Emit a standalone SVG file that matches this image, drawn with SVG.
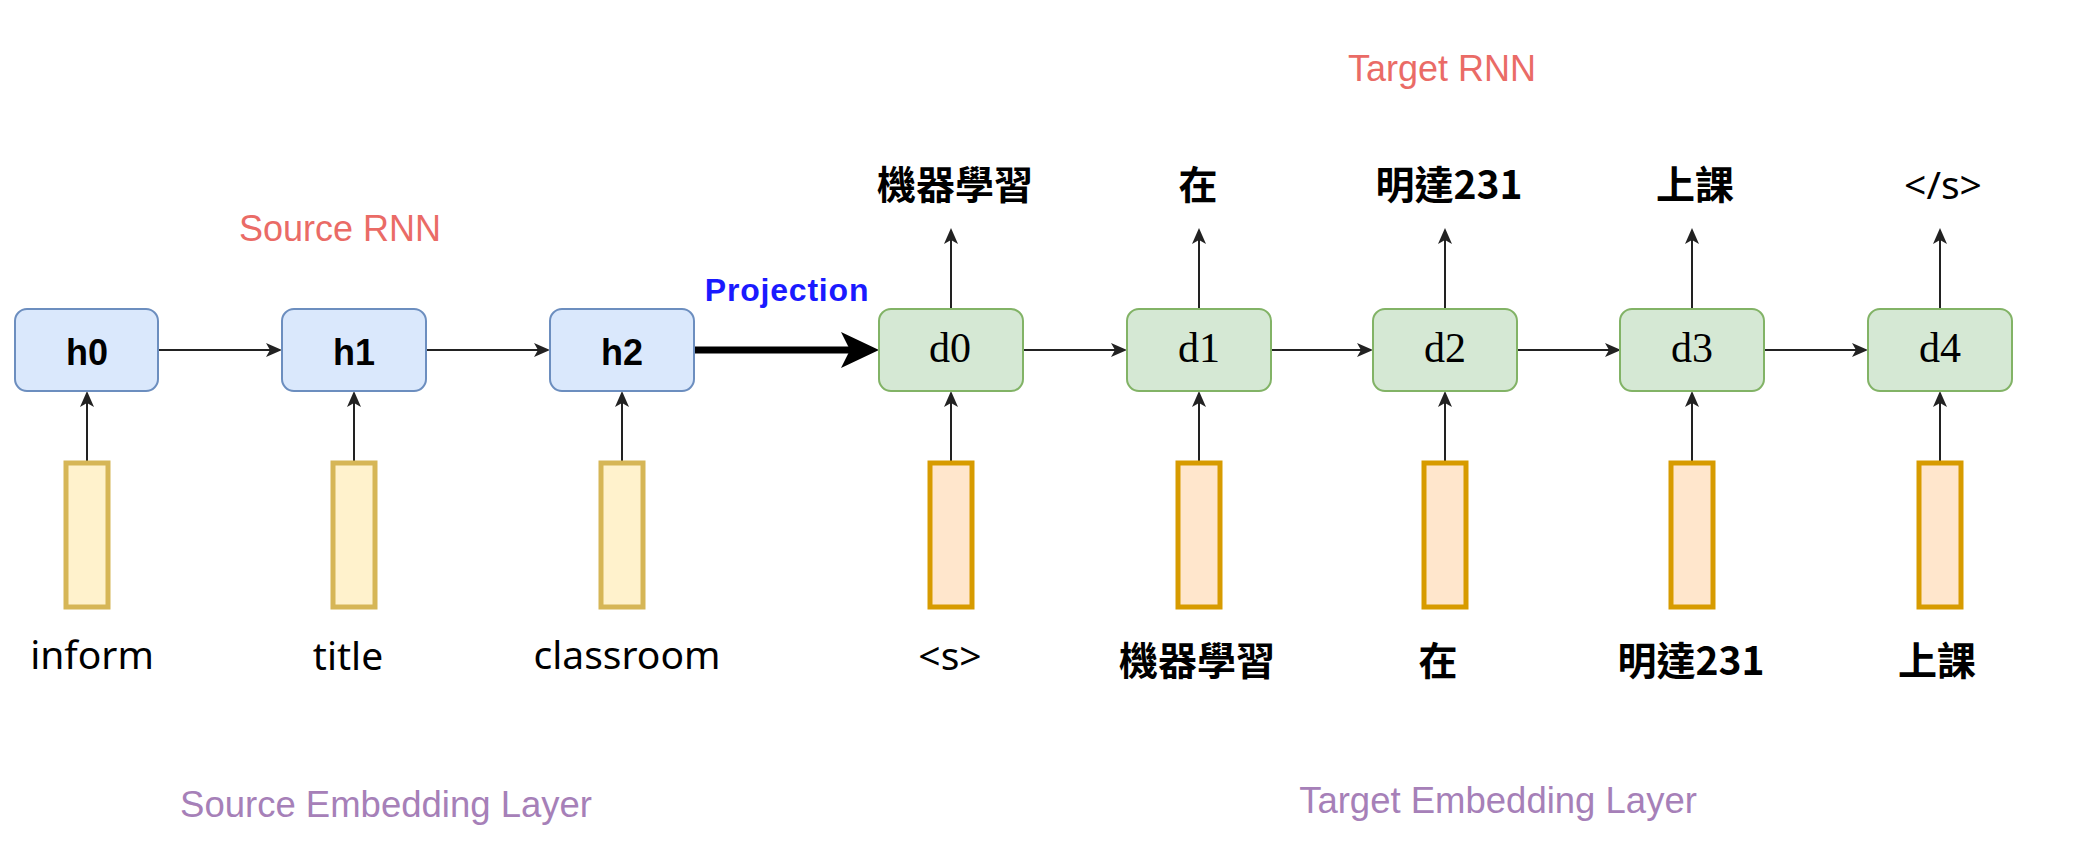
<svg xmlns="http://www.w3.org/2000/svg" width="2078" height="856" viewBox="0 0 2078 856">
<defs>
<style>
.h{fill:#dae8fc;stroke:#6c8ebf;stroke-width:2}
.d{fill:#d5e8d4;stroke:#82b366;stroke-width:2}
.se{fill:#fff2cc;stroke:#d6b656;stroke-width:5}
.te{fill:#ffe6cc;stroke:#d79b00;stroke-width:5}
.ht{font-family:"Liberation Sans",Arial,sans-serif;font-weight:bold;font-size:36px;fill:#000;text-anchor:middle}
.dt{font-family:"Liberation Serif","Times New Roman",serif;font-size:42px;fill:#000;text-anchor:middle}
.w{font-family:"Noto Sans","Noto Sans CJK TC",sans-serif;font-size:39px;fill:#000;text-anchor:middle}
.cjk{font-family:"Noto Sans CJK TC",sans-serif;font-weight:bold}
.red{font-family:"Liberation Sans",Arial,sans-serif;font-size:36px;fill:#ea6b66;text-anchor:middle}
.pur{font-family:"Liberation Sans",Arial,sans-serif;font-size:36.5px;fill:#a680b8;text-anchor:middle}
.proj{font-family:"Liberation Sans",Arial,sans-serif;font-weight:bold;font-size:32px;fill:#1a1aff;text-anchor:middle;letter-spacing:0.8px}
.c{stroke:#222;stroke-width:2;fill:none;marker-end:url(#arr)}
.thick{stroke:#000;stroke-width:7;fill:none;marker-end:url(#big)}
</style>
<marker id="arr" markerUnits="userSpaceOnUse" viewBox="0 0 16 14" markerWidth="16" markerHeight="14" refX="4" refY="7" orient="auto"><path d="M0,0 L16,7 L0,14 L4,7 Z" fill="#222"/></marker>
<marker id="big" markerUnits="userSpaceOnUse" viewBox="0 0 38 36" markerWidth="38" markerHeight="36" refX="9" refY="18" orient="auto"><path d="M0,0 L38,18 L0,36 L9,18 Z" fill="#000"/></marker>
</defs>
<rect width="2078" height="856" fill="#fff"/>

<g id="labels">
<text class="red" x="340" y="241">Source RNN</text>
<text class="red" x="1442" y="81">Target RNN</text>
<text class="proj" x="787" y="301">Projection</text>
<text class="pur" x="386" y="817">Source Embedding Layer</text>
<text class="pur" x="1498" y="813">Target Embedding Layer</text>
</g>

<g id="connectors">
<path class="c" d="M158,350 H270"/>
<path class="c" d="M426,350 H538"/>
<path class="thick" d="M694,350 H850"/>
<path class="c" d="M1023,350 H1115"/>
<path class="c" d="M1271,350 H1361"/>
<path class="c" d="M1517,350 H1609"/>
<path class="c" d="M1764,350 H1856"/>
<path class="c" d="M87,461 V403"/>
<path class="c" d="M354,461 V403"/>
<path class="c" d="M622,461 V403"/>
<path class="c" d="M951,461 V403"/>
<path class="c" d="M1199,461 V403"/>
<path class="c" d="M1445,461 V403"/>
<path class="c" d="M1692,461 V403"/>
<path class="c" d="M1940,461 V403"/>
<path class="c" d="M951,309 V240"/>
<path class="c" d="M1199,309 V240"/>
<path class="c" d="M1445,309 V240"/>
<path class="c" d="M1692,309 V240"/>
<path class="c" d="M1940,309 V240"/>
</g>

<g id="h0"><rect class="h" x="15" y="309" width="143" height="82" rx="12"/><text class="ht" x="87" y="365">h0</text></g>
<g id="h1"><rect class="h" x="282" y="309" width="144" height="82" rx="12"/><text class="ht" x="354" y="365">h1</text></g>
<g id="h2"><rect class="h" x="550" y="309" width="144" height="82" rx="12"/><text class="ht" x="622" y="365">h2</text></g>

<g id="d0"><rect class="d" x="879" y="309" width="144" height="82" rx="12"/><text class="dt" x="950" y="362">d0</text></g>
<g id="d1"><rect class="d" x="1127" y="309" width="144" height="82" rx="12"/><text class="dt" x="1199" y="362">d1</text></g>
<g id="d2"><rect class="d" x="1373" y="309" width="144" height="82" rx="12"/><text class="dt" x="1445" y="362">d2</text></g>
<g id="d3"><rect class="d" x="1620" y="309" width="144" height="82" rx="12"/><text class="dt" x="1692" y="362">d3</text></g>
<g id="d4"><rect class="d" x="1868" y="309" width="144" height="82" rx="12"/><text class="dt" x="1940" y="362">d4</text></g>

<g id="se0"><rect class="se" x="66" y="463" width="42" height="144"/><text class="w" x="92" y="669">inform</text></g>
<g id="se1"><rect class="se" x="333" y="463" width="42" height="144"/><text class="w" x="348" y="670">title</text></g>
<g id="se2"><rect class="se" x="601" y="463" width="42" height="144"/><text class="w" x="627" y="669">classroom</text></g>

<g id="te0"><rect class="te" x="930" y="463" width="42" height="144"/><text class="w" x="950" y="670">&lt;s&gt;</text></g>
<g id="te1"><rect class="te" x="1178" y="463" width="42" height="144"/><text class="w cjk" x="1197" y="675">機器學習</text></g>
<g id="te2"><rect class="te" x="1424" y="463" width="42" height="144"/><text class="w cjk" x="1438" y="675">在</text></g>
<g id="te3"><rect class="te" x="1671" y="463" width="42" height="144"/><text class="w cjk" x="1691" y="675">明達231</text></g>
<g id="te4"><rect class="te" x="1919" y="463" width="42" height="144"/><text class="w cjk" x="1937" y="675">上課</text></g>

<g id="out0"><text class="w cjk" x="955" y="199">機器學習</text></g>
<g id="out1"><text class="w cjk" x="1198" y="199">在</text></g>
<g id="out2"><text class="w cjk" x="1449" y="199">明達231</text></g>
<g id="out3"><text class="w cjk" x="1695" y="199">上課</text></g>
<g id="out4"><text class="w" x="1943" y="199">&lt;/s&gt;</text></g>
</svg>
